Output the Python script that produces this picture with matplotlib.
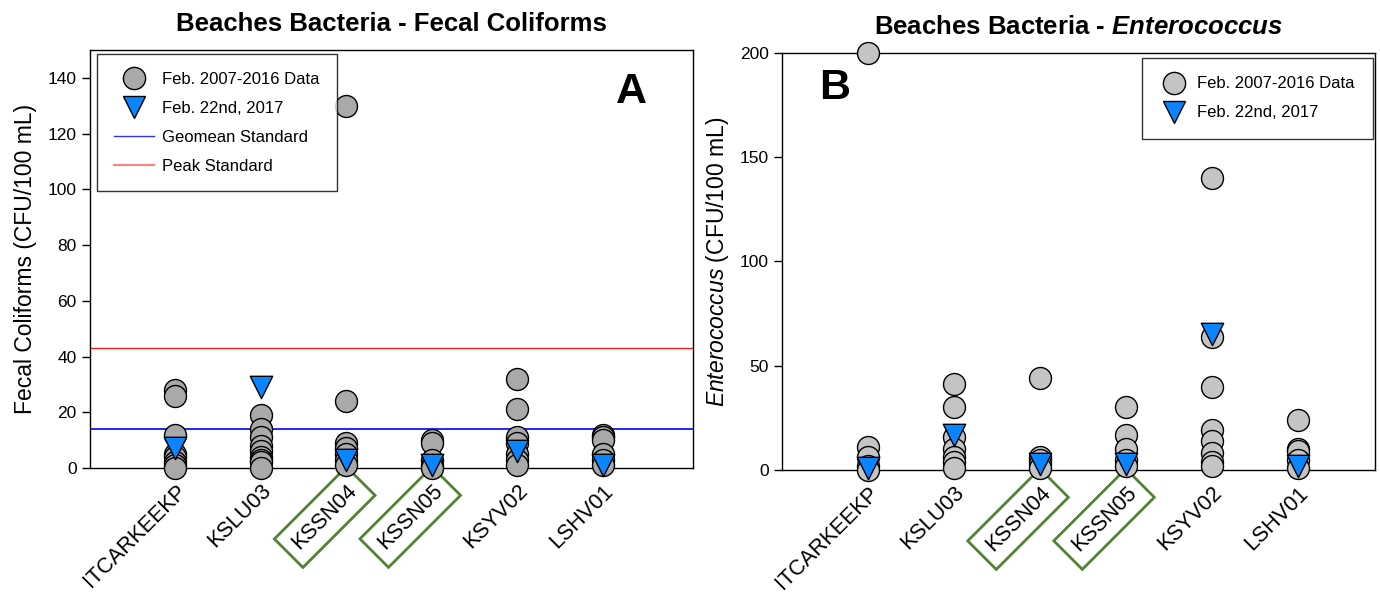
import matplotlib
matplotlib.use("Agg")
import matplotlib.pyplot as plt
from matplotlib.lines import Line2D

plt.rcParams['font.family'] = ['Liberation Sans', 'DejaVu Sans']
plt.rcParams['mathtext.fontset'] = 'custom'
plt.rcParams['mathtext.rm'] = 'Liberation Sans'
plt.rcParams['mathtext.it'] = 'Liberation Sans:italic'
plt.rcParams['mathtext.bf'] = 'Liberation Sans:bold'
plt.rcParams['mathtext.bfit'] = 'Liberation Sans:bold:italic'

# ---------------- data ----------------
sites = ["ITCARKEEKP", "KSLU03", "KSSN04", "KSSN05", "KSYV02", "LSHV01"]
highlight_sites = ["KSSN04", "KSSN05"]

# Panel A: Fecal coliforms (CFU/100 mL)
fc_hist = [
    [28, 26, 12, 5, 4, 2, 1, 0],
    [19, 14, 11, 8, 6, 4, 3, 2, 0],
    [130, 24, 9, 7, 5, 3, 1],
    [10, 9, 3, 1, 0],
    [32, 21, 11, 9, 5, 3, 1],
    [12, 11, 10, 5, 3, 1],
]
fc_2017 = [7, 29, 3, 1, 6, 1]
geomean_std = 14
peak_std = 43

# Panel B: Enterococcus (CFU/100 mL)
ent_hist = [
    [200, 11, 6, 2, 0],
    [41, 30, 16, 10, 6, 4, 1],
    [44, 6, 5, 3, 1],
    [30, 17, 10, 5, 2],
    [140, 64, 40, 19, 14, 8, 4, 2],
    [24, 10, 9, 5, 1],
]
ent_2017 = [1, 17, 3, 3, 65, 2]

fc_yticks = [0, 20, 40, 60, 80, 100, 120, 140]
ent_yticks = [0, 50, 100, 150, 200]

# ---------------- figure ----------------
fig = plt.figure(figsize=(13.8, 5.99), dpi=100)
axA = fig.add_axes([0.0652, 0.2187, 0.4368, 0.6978])
axB = fig.add_axes([0.5667, 0.2154, 0.4297, 0.6961])

circ_s = 250
tri_s = 260
tri_color = '#0a84ff'


def draw_panel(ax, hist, new, circ_color, xmax):
    xs = list(range(1, len(sites) + 1))
    for x, vals in zip(xs, hist):
        ax.scatter([x] * len(vals), vals, s=circ_s, marker='o',
                   facecolor=circ_color, edgecolor='black', linewidth=1.0,
                   zorder=3, clip_on=False)
    ax.scatter(xs, new, s=tri_s, marker='v', facecolor=tri_color,
               edgecolor='black', linewidth=1.0, zorder=4, clip_on=False)
    ax.set_xlim(0, xmax)
    ax.set_xticks(xs)
    ax.set_xticklabels(sites, rotation=45, ha='right', rotation_mode='anchor',
                       fontsize=15.5)
    ax.tick_params(axis='x', length=0, pad=9)
    ax.tick_params(axis='y', direction='out', length=6, labelsize=12.5, width=1)
    for sp in ax.spines.values():
        sp.set_linewidth(1.0)
    for lab in ax.get_xticklabels():
        if lab.get_text() in highlight_sites:
            lab.set_bbox(dict(boxstyle='square,pad=0.45', facecolor='white',
                              edgecolor='#548235', linewidth=2))


# Panel A
draw_panel(axA, fc_hist, fc_2017, '#a9a9a9', 7.05)
axA.axhline(geomean_std, color='#0000ff', linewidth=1.2, zorder=2)
axA.axhline(peak_std, color='#ff2020', linewidth=1.0, zorder=2)
axA.set_ylim(0, 150)
axA.set_yticks(fc_yticks)
axA.set_ylabel('Fecal Coliforms (CFU/100 mL)', fontsize=16.5, labelpad=8)
axA.set_title('Beaches Bacteria - Fecal Coliforms', fontsize=18.5,
              fontweight='bold', pad=14)
axA.text(0.899, 0.90, 'A', transform=axA.transAxes, fontsize=31,
         fontweight='bold', ha='center', va='center')

handlesA = [
    Line2D([], [], marker='o', linestyle='none', markersize=16,
           markerfacecolor='#a9a9a9', markeredgecolor='black'),
    Line2D([], [], marker='v', linestyle='none', markersize=16,
           markerfacecolor=tri_color, markeredgecolor='black'),
    Line2D([], [], color='#3333ff', linewidth=1.0),
    Line2D([], [], color='#ff8080', linewidth=1.5),
]
legA = axA.legend(handlesA, ['Feb. 2007-2016 Data', 'Feb. 22nd, 2017',
                             'Geomean Standard', 'Peak Standard'],
                  loc='upper left', bbox_to_anchor=(0.0116, 0.99),
                  borderaxespad=0,
                  fontsize=12, frameon=True, fancybox=False,
                  edgecolor='black', handlelength=2.35, labelspacing=0.84,
                  borderpad=1.05, handletextpad=0.5)
legA.get_frame().set_linewidth(1.0)

# Panel B
draw_panel(axB, ent_hist, ent_2017, '#c4c4c4', 6.9)
axB.set_ylim(0, 200)
axB.set_yticks(ent_yticks)
axB.set_ylabel(r'$\mathit{Enterococcus}$ (CFU/100 mL)', fontsize=16.5, labelpad=6)
axB.set_title(r'Beaches Bacteria - $\mathbfit{Enterococcus}$', fontsize=18.5,
              fontweight='bold', pad=14)
axB.text(0.089, 0.916, 'B', transform=axB.transAxes, fontsize=31,
         fontweight='bold', ha='center', va='center')

handlesB = handlesA[:2]
legB = axB.legend(handlesB, ['Feb. 2007-2016 Data', 'Feb. 22nd, 2017'],
                  loc='upper right', bbox_to_anchor=(0.9966, 0.988),
                  borderaxespad=0,
                  fontsize=12, frameon=True, fancybox=False,
                  edgecolor='black', handlelength=1.6, labelspacing=0.84,
                  borderpad=1.1, handletextpad=0.6)
legB.legend_handles[0].set_markerfacecolor('#c4c4c4')
legB.get_frame().set_linewidth(1.0)

fig.savefig('out.png', dpi=100)
